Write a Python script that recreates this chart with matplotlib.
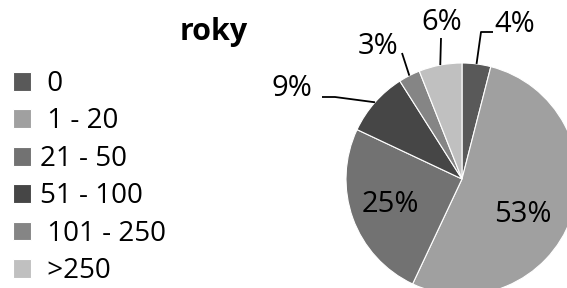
import numpy as np
import matplotlib.pyplot as plt

plt.rcParams['font.family'] = ['Open Sans', 'DejaVu Sans']

# kategorie a podíly
kategorie = [' 0', ' 1 - 20', '21 - 50', '51 - 100', ' 101 - 250', ' >250']
podily = [4, 53, 25, 9, 3, 6]
barvy = ['#595959', '#a0a0a0', '#727272', '#464646', '#858585', '#c0c0c0']

W, H = 567, 288
fig = plt.figure(figsize=(W / 100, H / 100), dpi=100)
ax = fig.add_axes([0, 0, 1, 1])

cx, cy, r = 462, H - 179, 116
wedges, _ = ax.pie(podily, colors=barvy, startangle=90, counterclock=False,
                   center=(cx, cy), radius=r, frame=True,
                   wedgeprops=dict(edgecolor='white', linewidth=0.8))
ax.set_xlim(0, W)
ax.set_ylim(0, H)
ax.set_aspect('equal')
ax.axis('off')

# pozice popisků (v pixelech obrázku, y shora) a lomy vodicích čar
popisky = {
    0: dict(text=(515, 25), elbow=[(481, 32), (493, 32)]),
    1: dict(text=(523, 214), elbow=None),
    2: dict(text=(390, 204), elbow=None),
    3: dict(text=(292, 88), elbow=[(335, 97), (322, 97)]),
    4: dict(text=(378, 46), elbow=[(402, 53)]),
    5: dict(text=(442, 23), elbow=[(441, 38)]),
}

for i, w in enumerate(wedges):
    info = popisky[i]
    tx, ty = info['text']
    ax.text(tx, H - ty, f'{podily[i]}%', ha='center', va='center', fontsize=21)
    if info['elbow'] is not None:
        mid = np.deg2rad((w.theta1 + w.theta2) / 2)
        pts = [(cx + r * np.cos(mid), cy + r * np.sin(mid))]
        pts += [(x, H - y) for x, y in info['elbow']]
        xs, ys = zip(*pts)
        ax.plot(xs, ys, color='black', linewidth=1.3, solid_capstyle='butt')

ax.text(214, H - 32, 'roky', ha='center', va='center', fontsize=22,
        fontweight='bold')

ax.legend(wedges, kategorie, loc='upper left', bbox_to_anchor=(13 / W, 1 - 70 / H),
          frameon=False, fontsize=20, handlelength=0.66, handleheight=0.66,
          handletextpad=0.3, labelspacing=0.34, borderpad=0, borderaxespad=0)

fig.savefig('out.png', dpi=100)
